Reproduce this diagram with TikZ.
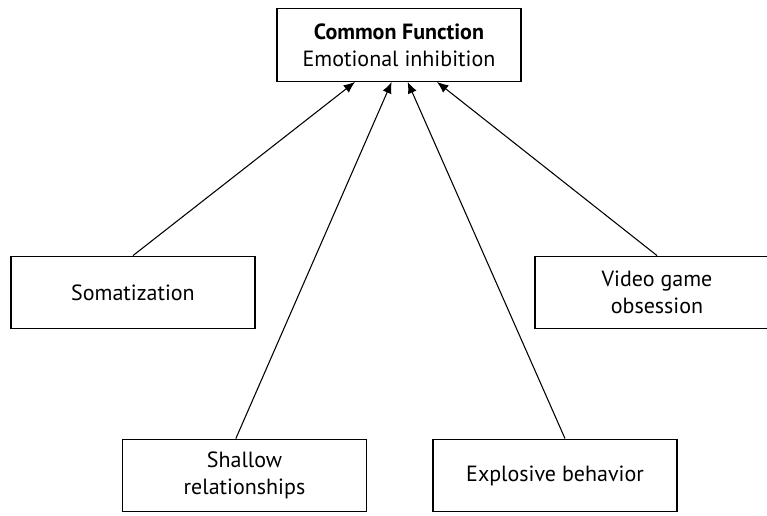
\documentclass[tikz,border=0pt]{standalone}
\usepackage{fontspec}
\setmainfont{PT Sans}
\usetikzlibrary{arrows.meta}
\begin{document}
\begin{tikzpicture}[x=0.75pt,y=-0.75pt,
  box/.style={draw, line width=0.9pt, minimum width=183pt, minimum height=54.5pt,
    inner sep=0pt, align=center, font=\fontsize{16.5}{20.5}\selectfont},
  link/.style={line width=0.8pt, -{Latex[length=8.5pt,width=7pt]}}]
\useasboundingbox (0,0) rectangle (767,515);
% central function
\node[box] (top) at (399,45) {\textbf{Common Function}\\Emotional inhibition};
% symptoms
\node[box] (som) at (133,292.5) {Somatization};
\node[box] (vid) at (657,292.5) {Video game\\obsession};
\node[box] (sha) at (244.5,475.5) {Shallow\\relationships};
\node[box] (exp) at (555,475.5) {Explosive behavior};
% connectors
\draw[link] (som.north) -- ([xshift=-33pt]top.south);
\draw[link] ([xshift=-6.5pt]sha.north) -- ([xshift=-5.5pt]top.south);
\draw[link] ([xshift=7.5pt]exp.north) -- ([xshift=6.5pt]top.south);
\draw[link] (vid.north) -- ([xshift=28.5pt]top.south);
\end{tikzpicture}
\end{document}
